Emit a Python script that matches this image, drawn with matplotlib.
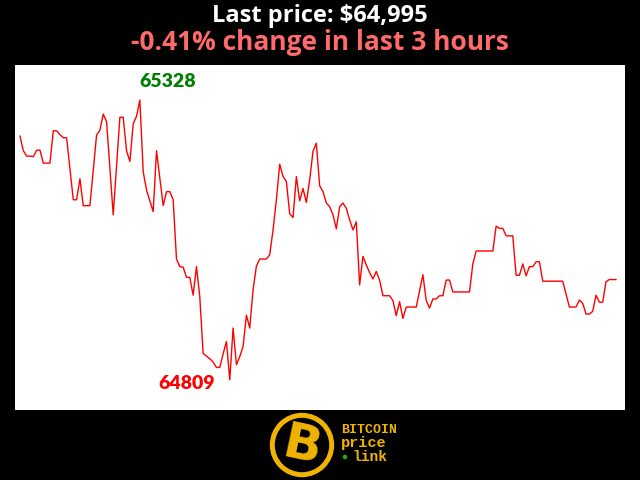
import matplotlib.pyplot as plt
from matplotlib.patches import Circle
import numpy as np

# price per minute over the last 3 hours
prices = [
    65261, 65234, 65224, 65224, 65223, 65235, 65235, 65211, 65211, 65211,
    65271, 65271, 65264, 65258, 65258, 65200, 65143, 65143, 65182, 65132,
    65132, 65132, 65198, 65263, 65272, 65302, 65288, 65202, 65115, 65206,
    65296, 65296, 65234, 65214, 65284, 65298, 65328, 65195, 65161, 65141,
    65121, 65234, 65183, 65132, 65158, 65158, 65143, 65033, 65019, 65018,
    64999, 64999, 64966, 65019, 64963, 64858, 64853, 64848, 64842, 64832,
    64832, 64857, 64880, 64809, 64905, 64837, 64852, 64871, 64929, 64905,
    64976, 65020, 65033, 65033, 65033, 65041, 65087, 65143, 65209, 65186,
    65177, 65117, 65110, 65186, 65141, 65164, 65138, 65180, 65233, 65248,
    65169, 65158, 65137, 65130, 65115, 65089, 65130, 65137, 65127, 65106,
    65087, 65102, 64985, 65038, 65022, 65008, 64996, 65010, 64994, 64965,
    64965, 64965, 64956, 64928, 64954, 64923, 64944, 64944, 64944, 64944,
    64974, 65004, 64956, 64942, 64959, 64959, 64965, 64965, 64994, 64994,
    64972, 64972, 64972, 64972, 64972, 64972, 65024, 65048, 65048, 65048,
    65048, 65048, 65048, 65094, 65090, 65090, 65076, 65076, 65076, 65003,
    65003, 65024, 65002, 65019, 65019, 65028, 65028, 64992, 64992, 64992,
    64992, 64992, 64992, 64992, 64968, 64944, 64944, 64944, 64957, 64951,
    64931, 64931, 64936, 64966, 64953, 64953, 64991, 64995, 64995, 64995,
]
last_price = 64995
change_pct = -0.41
hours = 3

prices = np.array(prices)
x = np.arange(len(prices))
imax = int(np.argmax(prices))
imin = int(np.argmin(prices))

fig = plt.figure(figsize=(6.4, 4.8), dpi=100, facecolor="black")

ax = fig.add_axes([15 / 640, 70 / 480, 610 / 640, 345 / 480])
ax.set_facecolor("white")
ax.plot(x, prices, color="red", lw=1)
ax.set_xlim(-1.5, 181.7)
ax.set_ylim(64753, 65393)
ax.set_xticks([])
ax.set_yticks([])
for s in ax.spines.values():
    s.set_visible(False)

ax.annotate(f"{prices[imax]}", (x[imax], prices[imax]), xytext=(0, 7),
            textcoords="offset points", ha="left", va="bottom",
            color="green", fontsize=14, fontweight="heavy", family="Lato")
ax.annotate(f"{prices[imin]}", (x[imin], prices[imin]), xytext=(-11, -3),
            textcoords="offset points", ha="right", va="center",
            color="red", fontsize=14, fontweight="heavy", family="Lato")

fig.text(0.5, 1 - 16 / 480, f"Last price: ${last_price:,}", ha="center",
         va="center", color="white", fontsize=17, fontweight="bold",
         family="Open Sans")
fig.text(0.5, 1 - 43 / 480, f"{change_pct}% change in last {hours} hours",
         ha="center", va="center", color="#ff6a6a", fontsize=19,
         fontweight="bold", family="Open Sans")

# logo
gold = "#f0b400"
lax = fig.add_axes([0, 0, 1, 70 / 480])
lax.set_xlim(0, 640)
lax.set_ylim(70, 0)
lax.set_aspect("equal")
lax.axis("off")
lax.add_patch(Circle((302, 35), 31.5, color=gold))
lax.add_patch(Circle((302, 35), 26.5, color="black"))
lax.text(302, 36, "B", ha="center", va="center", color=gold, fontsize=36,
         fontweight="bold", family="DejaVu Sans", rotation=-12)
lax.text(341, 20, "BITCOIN", ha="left", va="center", color=gold,
         fontsize=9.5, fontweight="bold", family="Liberation Mono")
lax.text(341, 33, "price", ha="left", va="center", color=gold,
         fontsize=11, fontweight="bold", family="Liberation Mono")
lax.text(352, 47, "link", ha="left", va="center", color=gold,
         fontsize=10.5, fontweight="bold", family="Liberation Mono")
lax.add_patch(Circle((345, 47), 1.6, color="#22aa22"))

fig.savefig("out.png", facecolor="black")
